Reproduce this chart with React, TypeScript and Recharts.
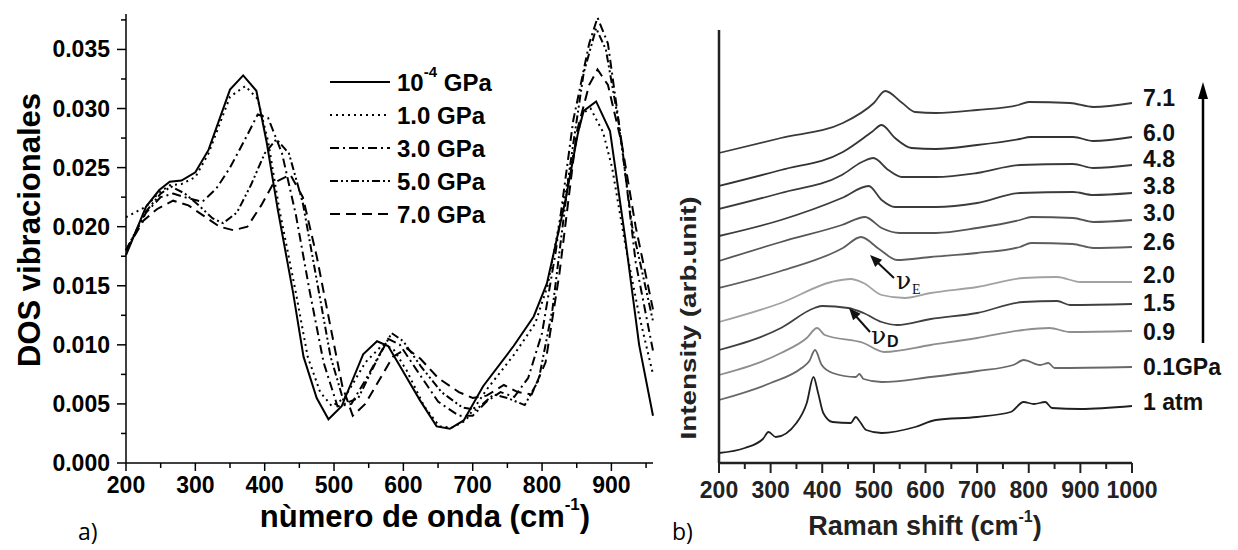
import React from 'react';
import { LineChart, Line, XAxis, YAxis, Legend } from 'recharts';

const FONT = '"Liberation Sans", Arial, Helvetica, sans-serif';

// ---------- Panel a: vibrational DOS ----------
const wnP0 = [200, 229, 248, 263, 280, 300, 319, 350, 369, 388, 403, 419, 441, 456, 475, 492, 511, 542, 562, 578, 595, 624, 648, 667, 687, 715, 759, 788, 807, 834, 852, 860, 878, 898, 920, 940, 960];
const dosP0 = [0.0176, 0.0217, 0.0231, 0.0238, 0.0239, 0.0246, 0.0265, 0.0316, 0.0328, 0.0315, 0.0271, 0.0214, 0.0144, 0.009, 0.0055, 0.0037, 0.0048, 0.0092, 0.0103, 0.0099, 0.0082, 0.0053, 0.0031, 0.0029, 0.0036, 0.0065, 0.0099, 0.0124, 0.0152, 0.0223, 0.028, 0.0298, 0.0306, 0.0281, 0.019, 0.01, 0.004];

const wnP1 = [200, 229, 248, 263, 280, 300, 319, 350, 372, 390, 405, 421, 445, 462, 480, 497, 515, 545, 570, 585, 605, 630, 652, 670, 690, 720, 760, 790, 808, 832, 858, 870, 888, 901, 920, 940, 960];
const dosP1 = [0.0208, 0.0217, 0.0229, 0.0235, 0.0236, 0.0242, 0.0262, 0.031, 0.0319, 0.0308, 0.0272, 0.0215, 0.0144, 0.009, 0.006, 0.0048, 0.0055, 0.0085, 0.01, 0.0097, 0.0078, 0.0048, 0.0031, 0.003, 0.0036, 0.0062, 0.0092, 0.0118, 0.015, 0.0225, 0.0296, 0.03, 0.028, 0.025, 0.0185, 0.0125, 0.0075];

const wnP3 = [200, 229, 250, 268, 290, 310, 330, 350, 370, 390, 405, 425, 445, 465, 485, 505, 525, 550, 578, 595, 620, 650, 680, 700, 720, 740, 760, 780, 800, 820, 845, 868, 880, 895, 915, 935, 960];
const dosP3 = [0.018, 0.0212, 0.0225, 0.0228, 0.0224, 0.0221, 0.0232, 0.025, 0.0272, 0.0295, 0.0292, 0.0262, 0.021, 0.0145, 0.0085, 0.0048, 0.005, 0.0075, 0.0105, 0.01, 0.0078, 0.0052, 0.004, 0.004, 0.0052, 0.006, 0.0056, 0.0072, 0.011, 0.018, 0.029, 0.0355, 0.0377, 0.0355, 0.027, 0.017, 0.0095];

const wnP5 = [200, 229, 250, 265, 285, 305, 325, 340, 360, 380, 400, 417, 435, 455, 475, 495, 515, 535, 560, 583, 600, 625, 655, 685, 705, 730, 750, 775, 795, 815, 840, 860, 878, 892, 910, 930, 960];
const dosP5 = [0.018, 0.0213, 0.0228, 0.0234, 0.0228, 0.0218, 0.0207, 0.0203, 0.0212, 0.0235, 0.0262, 0.0274, 0.0262, 0.022, 0.0155, 0.009, 0.005, 0.0055, 0.0085, 0.011, 0.0103, 0.0082, 0.006, 0.0047, 0.0045, 0.0058, 0.0055, 0.0049, 0.007, 0.013, 0.025, 0.033, 0.0368, 0.035, 0.029, 0.02, 0.012];

const wnP7 = [200, 225, 245, 268, 290, 310, 335, 355, 375, 395, 413, 437, 455, 475, 495, 512, 527, 545, 565, 585, 605, 625, 650, 680, 700, 720, 745, 765, 785, 805, 825, 850, 868, 880, 895, 915, 935, 960];
const dosP7 = [0.018, 0.0205, 0.0215, 0.0222, 0.0218, 0.021, 0.02, 0.0197, 0.02, 0.0218, 0.0237, 0.0244, 0.0225, 0.0175, 0.0115, 0.0065, 0.004, 0.005, 0.007, 0.009, 0.0097, 0.0088, 0.0072, 0.006, 0.0055, 0.0057, 0.0066, 0.006, 0.0058, 0.0085, 0.016, 0.028, 0.032, 0.0333, 0.032, 0.027, 0.02, 0.013];

const pressureLabelsA = ['10', '1.0 GPa', '3.0 GPa', '5.0 GPa', '7.0 GPa'];
const xTicksA = [200, 250, 300, 350, 400, 450, 500, 550, 600, 650, 700, 750, 800, 850, 900, 950];
const yTicksA = [0, 0.0025, 0.005, 0.0075, 0.01, 0.0125, 0.015, 0.0175, 0.02, 0.0225, 0.025, 0.0275, 0.03, 0.0325, 0.035, 0.0375];

const dashes = [undefined, '2 4', '9 4 2 4', '8 3 2 3 2 3', '10 6'];
const seriesA = [
  { name: pressureLabelsA[0], wn: wnP0, dos: dosP0, dash: dashes[0] },
  { name: pressureLabelsA[1], wn: wnP1, dos: dosP1, dash: dashes[1] },
  { name: pressureLabelsA[2], wn: wnP3, dos: dosP3, dash: dashes[2] },
  { name: pressureLabelsA[3], wn: wnP5, dos: dosP5, dash: dashes[3] },
  { name: pressureLabelsA[4], wn: wnP7, dos: dosP7, dash: dashes[4] },
];

// ---------- Panel b: Raman spectra (arb. units) ----------
const shift71 = [200, 320, 440, 500, 522, 555, 580, 620, 700, 780, 800, 880, 925, 1000];
const int71 = [310, 325, 340, 360, 372, 360, 351, 350, 353, 358, 361, 360, 356, 360];
const shift60 = [200, 320, 440, 496, 515, 541, 573, 620, 700, 783, 803, 886, 925, 1000];
const int60 = [277, 293, 311, 331, 338, 325, 315, 314, 318, 324, 326, 326, 322, 326];
const shift48 = [200, 320, 438, 477, 499, 528, 554, 620, 700, 783, 886, 925, 1000];
const int48 = [254, 270, 288, 301, 305, 293, 286, 286, 290, 298, 299, 295, 298];
const shift38 = [200, 320, 438, 490, 515, 541, 620, 700, 783, 886, 925, 1000];
const int38 = [227, 243, 265, 277, 263, 256, 256, 260, 270, 271, 268, 270];
const shift30 = [200, 320, 438, 483, 515, 550, 620, 700, 783, 805, 886, 925, 1000];
const int30 = [202, 221, 238, 246, 235, 230, 230, 235, 243, 246, 245, 241, 243];
const shift26 = [200, 320, 440, 475, 510, 545, 610, 700, 783, 805, 885, 925, 1000];
const int26 = [175, 192, 215, 226, 214, 203, 206, 210, 216, 220, 219, 215, 216];
const shift20 = [200, 320, 418, 455, 480, 515, 560, 610, 700, 790, 855, 900, 1000];
const int20 = [141, 160, 181, 184, 180, 168, 165, 170, 176, 185, 186, 181, 181];
const shift15 = [200, 320, 385, 400, 450, 480, 515, 545, 610, 700, 789, 855, 880, 1000];
const int15 = [113, 135, 155, 157, 155, 150, 141, 138, 144, 150, 161, 162, 158, 159];
const shift09 = [200, 320, 370, 390, 405, 480, 520, 610, 700, 789, 840, 880, 1000];
const int09 = [88, 110, 125, 135, 128, 120, 111, 118, 125, 133, 135, 131, 132];
const shift01 = [200, 300, 360, 375, 386, 399, 420, 465, 472, 480, 515, 610, 700, 770, 790, 822, 838, 850, 1000];
const int01 = [63, 80, 95, 102, 113, 98, 90, 86, 89, 84, 81, 86, 92, 98, 103, 98, 100, 95, 96];
const shiftAtm = [200, 250, 285, 296, 310, 350, 370, 383, 392, 402, 420, 455, 465, 472, 485, 515, 580, 620, 700, 765, 790, 810, 832, 845, 900, 1000];
const intAtm = [10, 15, 24, 31, 26, 40, 60, 86, 70, 50, 41, 40, 46, 42, 33, 30, 36, 43, 46, 51, 61, 59, 61, 55, 54, 57];

const pressureLabelsB = ['7.1', '6.0', '4.8', '3.8', '3.0', '2.6', '2.0', '1.5', '0.9', '0.1GPa', '1 atm'];
const traceColors = ['#3a3a3a', '#333333', '#3a3a3a', '#3c3c3c', '#555555', '#5e5e5e', '#a2a2a2', '#404040', '#8e8e8e', '#686868', '#202020'];
// vertical nudge (px) of each end label relative to its curve end — layout only
const labelNudgeB = [-5, -4, -6, -7, -7, -5, -7, -1, 1, 0, -4];
const seriesB = [
  { shift: shift71, int: int71 }, { shift: shift60, int: int60 }, { shift: shift48, int: int48 },
  { shift: shift38, int: int38 }, { shift: shift30, int: int30 }, { shift: shift26, int: int26 },
  { shift: shift20, int: int20 }, { shift: shift15, int: int15 }, { shift: shift09, int: int09 },
  { shift: shift01, int: int01 }, { shift: shiftAtm, int: intAtm },
];
const xTicksB = [200, 250, 300, 350, 400, 450, 500, 550, 600, 650, 700, 750, 800, 850, 900, 950, 1000];

// ---------- tick renderers ----------
const YTickA = (props: any) => {
  const { x, y, payload } = props;
  const v = payload.value;
  const major = Math.abs(v * 200 - Math.round(v * 200)) < 1e-6;
  return (
    <g>
      <line x1={x} x2={x - (major ? 9 : 5)} y1={y} y2={y} stroke="#000" strokeWidth={1.5} />
      {major && (
        <text x={x - 16} y={y} textAnchor="end" dominantBaseline="central" fontSize={23} fontWeight={700} fontFamily={FONT} fill="#000">
          {v.toFixed(3)}
        </text>
      )}
    </g>
  );
};

const XTickA = (props: any) => {
  const { x, y, payload } = props;
  const v = payload.value;
  const major = v % 100 === 0;
  return (
    <g>
      <line x1={x} x2={x} y1={y} y2={y + (major ? 8 : 5)} stroke="#000" strokeWidth={1.5} />
      {major && (
        <text x={x} y={y + 22} textAnchor="middle" dominantBaseline="central" fontSize={23} fontWeight={700} fontFamily={FONT} fill="#000">
          {v}
        </text>
      )}
    </g>
  );
};

const XTickB = (props: any) => {
  const { x, y, payload } = props;
  const v = payload.value;
  const major = v % 100 === 0;
  return (
    <g>
      <line x1={x} x2={x} y1={y} y2={y + (major ? 10 : 6)} stroke="#222" strokeWidth={2} />
      {major && (
        <text x={x} y={y + 27} textAnchor="middle" dominantBaseline="central" fontSize={23} fontWeight={700} fontFamily={FONT} fill="#222">
          {v}
        </text>
      )}
    </g>
  );
};

const LegendA = () => (
  <svg width={190} height={170} style={{ display: 'block', overflow: 'visible' }}>
    {seriesA.map((s, i) => {
      const cy = 17 + i * 33;
      return (
        <g key={i}>
          <line x1={5} x2={65} y1={cy} y2={cy} stroke="#000" strokeWidth={2} strokeDasharray={s.dash} />
          <text x={72} y={cy} dominantBaseline="central" fontSize={24} fontWeight={700} fontFamily={FONT} fill="#000">
            {i === 0 ? (
              <>
                10<tspan dy={-11} fontSize={15}>-4</tspan>
                <tspan dy={11}> GPa</tspan>
              </>
            ) : (
              s.name
            )}
          </text>
        </g>
      );
    })}
  </svg>
);

function arrowHead(x1: number, y1: number, x2: number, y2: number, len: number, half: number) {
  const dx = x2 - x1;
  const dy = y2 - y1;
  const d = Math.sqrt(dx * dx + dy * dy);
  const ux = dx / d;
  const uy = dy / d;
  const bx = x2 - ux * len;
  const by = y2 - uy * len;
  return `${x2},${y2} ${bx - uy * half},${by + ux * half} ${bx + uy * half},${by - ux * half}`;
}

export default function App() {
  return (
    <div style={{ position: 'absolute', left: 0, top: 0, width: 1238, height: 550, background: '#fff', overflow: 'hidden' }}>
      <div style={{ position: 'absolute', left: 0, top: 0 }}>
        <LineChart width={660} height={550} margin={{ top: 14, right: 7, bottom: 0, left: 0 }}>
          <XAxis
            type="number"
            dataKey="x"
            domain={[200, 960]}
            ticks={xTicksA}
            interval={0}
            height={87}
            tickSize={0}
            tickMargin={0}
            tickLine={false}
            tick={<XTickA />}
            axisLine={{ stroke: '#000', strokeWidth: 1.5 }}
            allowDuplicatedCategory={false}
          />
          <YAxis
            type="number"
            domain={[0, 0.038]}
            ticks={yTicksA}
            interval={0}
            width={126}
            tickSize={0}
            tickMargin={0}
            tickLine={false}
            tick={<YTickA />}
            axisLine={{ stroke: '#000', strokeWidth: 1.5 }}
          />
          <Legend
            layout="vertical"
            align="center"
            verticalAlign="middle"
            content={<LegendA />}
            wrapperStyle={{ position: 'absolute', left: 325, top: 65, width: 190, height: 170 }}
          />
          {seriesA.map((s, i) => (
            <Line
              key={i}
              data={s.wn.map((x, j) => ({ x, y: s.dos[j] }))}
              dataKey="y"
              name={s.name}
              type="linear"
              stroke="#000"
              strokeWidth={2}
              strokeDasharray={s.dash}
              dot={false}
              activeDot={false}
              isAnimationActive={false}
            />
          ))}
        </LineChart>
      </div>

      <div style={{ position: 'absolute', left: 640, top: 0 }}>
        <LineChart width={598} height={550} margin={{ top: 30, right: 106, bottom: 0, left: 0 }}>
          <XAxis
            type="number"
            dataKey="x"
            domain={[200, 1000]}
            ticks={xTicksB}
            interval={0}
            height={87}
            tickSize={0}
            tickMargin={0}
            tickLine={false}
            tick={<XTickB />}
            axisLine={{ stroke: '#222', strokeWidth: 2.5 }}
            allowDuplicatedCategory={false}
          />
          <YAxis
            type="number"
            domain={[0, 433]}
            width={79}
            tick={false}
            tickLine={false}
            axisLine={{ stroke: '#222', strokeWidth: 2.5 }}
          />
          {seriesB.map((s, i) => (
            <Line
              key={i}
              data={s.shift.map((x, j) => ({ x, y: s.int[j] }))}
              dataKey="y"
              name={pressureLabelsB[i]}
              type="monotone"
              stroke={traceColors[i]}
              strokeWidth={1.8}
              dot={false}
              activeDot={false}
              isAnimationActive={false}
              label={(p: any) =>
                p.index === s.shift.length - 1 ? (
                  <text key={`lb${i}`} x={p.x + 11} y={p.y + labelNudgeB[i]} dominantBaseline="central" fontSize={23} fontWeight={700} fontFamily={FONT} fill="#111">
                    {pressureLabelsB[i]}
                  </text>
                ) : (
                  <g key={`lb${i}-${p.index}`} />
                )
              }
            />
          ))}
        </LineChart>
      </div>

      <svg width={1238} height={550} style={{ position: 'absolute', left: 0, top: 0, pointerEvents: 'none' }}>
        {/* panel a titles */}
        <text transform="translate(29,230) rotate(-90)" textAnchor="middle" dominantBaseline="central" fontSize={31} fontWeight={700} fontFamily={FONT} fill="#000">
          DOS vibracionales
        </text>
        <text x={425} y={527} textAnchor="middle" fontSize={31} fontWeight={700} fontFamily={FONT} fill="#000">
          nùmero de onda (cm<tspan dy={-17} fontSize={17}>-1</tspan>
          <tspan dy={17}>)</tspan>
        </text>
        <text x={78} y={540} fontSize={23} fontFamily='"Open Sans", "Noto Sans", sans-serif' fill="#000">a)</text>

        {/* panel b titles */}
        <text transform="translate(688,318) rotate(-90)" textAnchor="middle" dominantBaseline="central" fontSize={22} fontWeight={700} fontFamily={FONT} fill="#222" textLength={243} lengthAdjust="spacingAndGlyphs">
          Intensity (arb.unit)
        </text>
        <text x={925} y={535} textAnchor="middle" fontSize={27} fontWeight={700} fontFamily={FONT} fill="#222">
          Raman shift (cm<tspan dy={-13} fontSize={16}>-1</tspan>
          <tspan dy={13}>)</tspan>
        </text>
        <text x={672} y={540} fontSize={23} fontFamily='"Open Sans", "Noto Sans", sans-serif' fill="#000">b)</text>

        {/* nu_E annotation */}
        <line x1={894} y1={278} x2={876} y2={261} stroke="#111" strokeWidth={2} />
        <polygon points={arrowHead(894, 278, 870, 255, 12, 5)} fill="#111" />
        <text x={896} y={289} fontSize={25} fontFamily='"DejaVu Serif", "Liberation Serif", serif' fill="#111">ν</text>
        <text x={912} y={294} fontSize={14} fontFamily='"Liberation Serif", serif' fill="#111">E</text>

        {/* nu_D annotation */}
        <line x1={870} y1={332} x2={854} y2={314} stroke="#111" strokeWidth={2} />
        <polygon points={arrowHead(870, 332, 849, 308, 12, 5)} fill="#111" />
        <text x={871} y={344} fontSize={25} fontFamily='"DejaVu Serif", "Liberation Serif", serif' fill="#111">ν</text>
        <text x={887} y={347} fontSize={16} fontWeight={700} fontFamily={FONT} fill="#111">D</text>

        {/* pressure arrow */}
        <line x1={1203} y1={343} x2={1203} y2={96} stroke="#000" strokeWidth={2.5} />
        <polygon points={arrowHead(1203, 343, 1203, 82, 17, 5)} fill="#000" />
      </svg>
    </div>
  );
}
